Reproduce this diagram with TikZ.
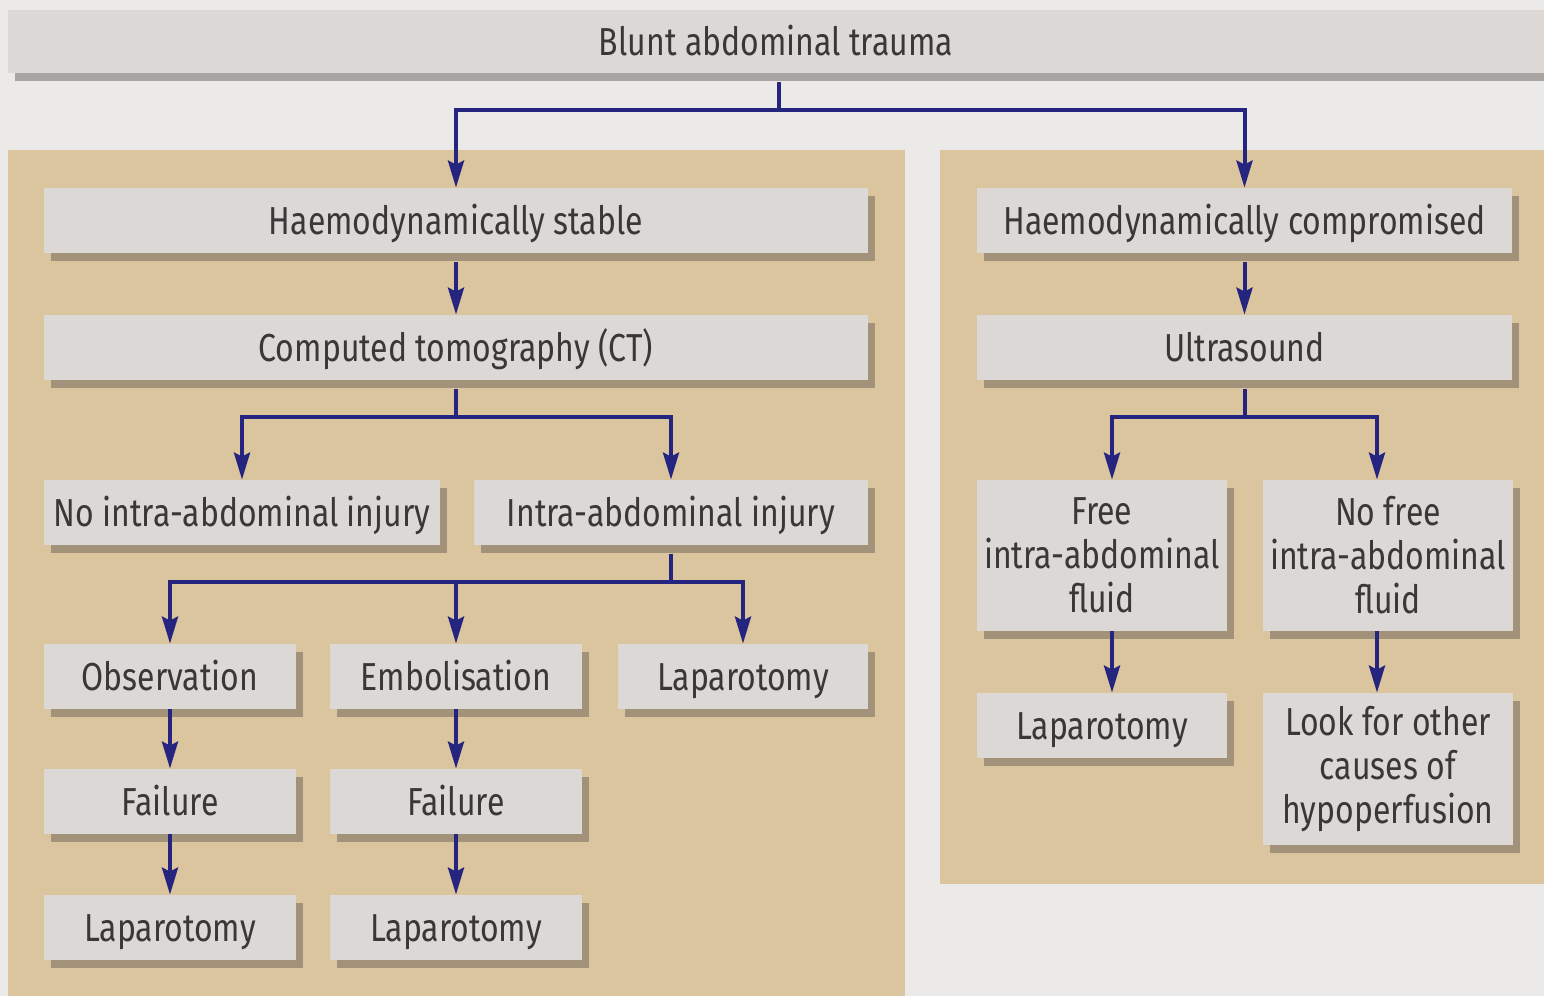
\documentclass[tikz,border=0pt]{standalone}
\usepackage{fontspec}
\setmainfont{Fira Sans}[FakeStretch=0.82]
\usetikzlibrary{arrows.meta,shadows,calc}
\definecolor{bgcol}{HTML}{EBEAE8}
\definecolor{tancol}{HTML}{DBC59E}
\definecolor{boxcol}{HTML}{DBD8D6}
\definecolor{shadtan}{HTML}{A3927A}
\definecolor{shadgray}{HTML}{A8A4A2}
\definecolor{navy}{HTML}{25257F}
\definecolor{txtcol}{HTML}{383838}
\tikzset{
  box/.style={fill=boxcol, inner sep=0pt, align=center, text=txtcol,
    font=\fontsize{19.5}{22}\selectfont, minimum height=32.5pt,
    drop shadow={shadow xshift=3.5pt, shadow yshift=-4pt, fill=shadtan, opacity=1}},
  onebox/.style={box, text height=14pt, text depth=0pt},
  topbox/.style={onebox, drop shadow={shadow xshift=3.5pt, shadow yshift=-4pt, fill=shadgray, opacity=1}},
  conn/.style={draw=navy, line width=2pt, line join=miter},
  arr/.style={conn, -{Stealth[length=13.5pt, width=8pt, inset=2pt]}},
}
\begin{document}
\begin{tikzpicture}[x=0.5pt, y=-0.5pt]
\useasboundingbox (0,0) rectangle (1544,996);
\fill[bgcol] (0,0) rectangle (1544,996);
% panels
\fill[tancol] (8,150) rectangle (905,996);
\fill[tancol] (940,150) rectangle (1544,884);
% nodes
\node[topbox, minimum width=768pt, minimum height=31.5pt] (top) at (776,41.5) {Blunt abdominal trauma};
\node[onebox, minimum width=412pt] (stable) at (456,220.5) {Haemodynamically stable};
\node[onebox, minimum width=412pt] (ct) at (456,347.5) {Computed tomography (CT)};
\node[onebox, minimum width=198pt] (noinj) at (242,512.5) {No intra-abdominal injury};
\node[onebox, minimum width=197pt] (inj) at (671,512.5) {Intra-abdominal injury};
\node[onebox, minimum width=126pt] (obs) at (170,676.5) {Observation};
\node[onebox, minimum width=126pt] (emb) at (456,676.5) {Embolisation};
\node[onebox, minimum width=125pt] (lapm) at (743,676.5) {Laparotomy};
\node[onebox, minimum width=126pt] (fail1) at (170,801.5) {Failure};
\node[onebox, minimum width=126pt] (fail2) at (456,801.5) {Failure};
\node[onebox, minimum width=126pt] (lapa) at (170,927.5) {Laparotomy};
\node[onebox, minimum width=126pt] (lapb) at (456,927.5) {Laparotomy};
\node[onebox, minimum width=267.5pt] (comp) at (1244.5,220.5) {Haemodynamically compromised};
\node[onebox, minimum width=267.5pt] (us) at (1244.5,347.5) {Ultrasound};
\node[box, minimum width=125pt, minimum height=75.5pt] (free) at (1102,555.5) {Free\\intra-abdominal\\fluid};
\node[box, minimum width=125pt, minimum height=75.5pt] (nofree) at (1388,555.5) {No free\\intra-abdominal\\fluid};
\node[onebox, minimum width=125pt] (lapr) at (1102,725.5) {Laparotomy};
\node[box, minimum width=125pt, minimum height=76pt] (look) at (1388,769) {Look for other\\causes of\\hypoperfusion};
% connectors
\coordinate (j0) at (779,110);
\draw[conn] ([xshift=1.5pt,yshift=-4.5pt]top.south) -- (j0);
\draw[arr] (j0) -| (stable.north);
\draw[arr] (j0) -| (comp.north);
\draw[arr, shorten <=4.5pt] (stable.south) -- (ct.north);
\coordinate (j1) at (456,417);
\draw[conn] ([yshift=-4.5pt]ct.south) -- (j1);
\draw[arr] (j1) -| (noinj.north);
\draw[arr] (j1) -| (inj.north);
\coordinate (j2) at (671,582);
\draw[conn] ([yshift=-4.5pt]inj.south) -- (j2);
\draw[arr] (j2) -| (obs.north);
\draw[arr] (j2) -| (lapm.north);
\draw[arr] (emb.north |- j2) -- (emb.north);
\draw[arr] (obs.south) -- (fail1.north);
\draw[arr] (emb.south) -- (fail2.north);
\draw[arr] (fail1.south) -- (lapa.north);
\draw[arr] (fail2.south) -- (lapb.north);
\draw[arr, shorten <=4.5pt] (comp.south) -- (us.north);
\coordinate (j3) at (1244.5,417);
\draw[conn] ([yshift=-4.5pt]us.south) -- (j3);
\draw[arr] (j3) -| ([xshift=5pt]free.north);
\draw[arr] (j3) -| ([xshift=-5.5pt]nofree.north);
\draw[arr] ([xshift=5pt]free.south) -- ([xshift=5pt]lapr.north);
\draw[arr] ([xshift=-5.5pt]nofree.south) -- ([xshift=-5.5pt]look.north);
\end{tikzpicture}
\end{document}
